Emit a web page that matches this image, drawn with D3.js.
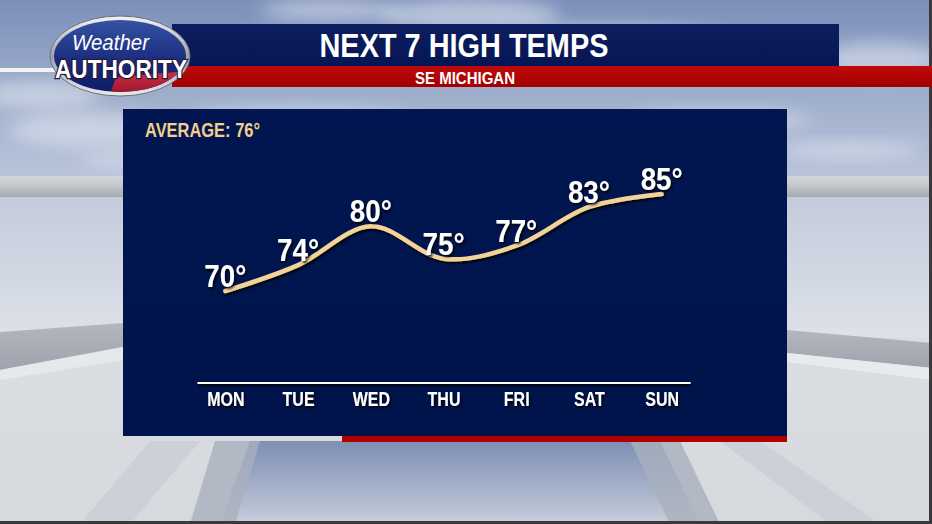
<!DOCTYPE html>
<html><head><meta charset="utf-8">
<script src="https://cdn.jsdelivr.net/npm/d3@7"></script>
<style>html,body{margin:0;padding:0;background:#ccc;overflow:hidden}svg{display:block}</style>
</head><body>
<script>
// ---- data ----
const days = ["MON","TUE","WED","THU","FRI","SAT","SUN"];
const temps = [70, 74, 80, 75, 77, 83, 85];
const averageTemp = 76;
const title = "NEXT 7 HIGH TEMPS";
const subtitle = "SE MICHIGAN";

const W = 932, H = 524;
const FONT = "'Liberation Sans Narrow','Arial Narrow','Liberation Sans',Arial,sans-serif";
const svg = d3.select("body").append("svg").attr("width", W).attr("height", H);
const defs = svg.append("defs");

function lg(id, stops, x1=0,y1=0,x2=0,y2=1){
  const g = defs.append("linearGradient").attr("id", id)
    .attr("x1",x1).attr("y1",y1).attr("x2",x2).attr("y2",y2);
  stops.forEach(s => g.append("stop").attr("offset", s[0]).attr("stop-color", s[1]).attr("stop-opacity", s[2]===undefined?1:s[2]));
}
lg("sky", [[0,"#7b8fba"],[0.45,"#9aaac9"],[1,"#b9c4da"]]);
lg("beam", [[0,"#d3d5d9"],[0.5,"#c2c5ca"],[1,"#a6abb3"]]);
lg("mid", [[0,"#c3ccdc"],[1,"#dde1e8"]]);
lg("floor", [[0,"#e1e4e9"],[1,"#d6d9de"]]);
lg("band", [[0,"#b3b7be"],[1,"#9ea3ad"]]);
lg("pit", [[0,"#7d8fb3"],[0.6,"#a7b3cb"],[1,"#c9cfdb"]]);
lg("navyBanner", [[0,"#0d1e60"],[1,"#061654"]]);
lg("redBanner", [[0,"#c10a0a"],[1,"#a00000"]]);
lg("panel", [[0,"#011650"],[1,"#00144b"]]);
lg("silver", [[0,"#f4f4f6"],[0.5,"#9da2ad"],[1,"#e8e9ec"]]);
lg("logoBlue", [[0,"#3a56a6"],[0.6,"#15287a"],[1,"#0b1a5e"]]);
lg("logoRed", [[0,"#d0324a"],[1,"#8c0d22"]]);

const blur = defs.append("filter").attr("id","blur").attr("x","-50%").attr("y","-50%").attr("width","200%").attr("height","200%");
blur.append("feGaussianBlur").attr("stdDeviation", 8);
const shadow = defs.append("filter").attr("id","shadow").attr("x","-20%").attr("y","-20%").attr("width","140%").attr("height","160%");
shadow.append("feDropShadow").attr("dx",1.5).attr("dy",2).attr("stdDeviation",1).attr("flood-color","#000").attr("flood-opacity",0.85);
const shadowU = defs.append("filter").attr("id","shadowU").attr("filterUnits","userSpaceOnUse")
  .attr("x",0).attr("y",0).attr("width",W).attr("height",H);
shadowU.append("feDropShadow").attr("dx",1).attr("dy",2).attr("stdDeviation",1).attr("flood-color","#000").attr("flood-opacity",0.9);

// ---- background ----
const bg = svg.append("g");
bg.append("rect").attr("width",W).attr("height",H).attr("fill","url(#floor)");
bg.append("rect").attr("width",W).attr("height",178).attr("fill","url(#sky)");
const clouds = [[470,15,90,16],[600,40,120,14],[300,120,110,12],[90,130,80,18],[720,120,90,10],[850,150,70,8],[40,95,60,14],[880,60,60,18],[200,160,120,10],[650,150,100,9],[330,10,70,10]];
bg.selectAll("ellipse.cloud").data(clouds).join("ellipse")
  .attr("cx",d=>d[0]).attr("cy",d=>d[1]).attr("rx",d=>d[2]).attr("ry",d=>d[3])
  .attr("fill","#e4e9f3").attr("opacity",0.55).attr("filter","url(#blur)");
bg.append("rect").attr("y",176).attr("width",W).attr("height",21).attr("fill","url(#beam)");
bg.append("rect").attr("y",197).attr("width",W).attr("height",140).attr("fill","url(#mid)");
bg.append("polygon").attr("points","0,332 123,323 123,347 0,370").attr("fill","url(#band)");
bg.append("polygon").attr("points","787,330 932,343 932,368 787,353").attr("fill","url(#band)");
bg.append("polygon").attr("points","0,370 123,347 123,360 0,380").attr("fill","#e6e8ec");
bg.append("polygon").attr("points","787,353 932,368 932,380 787,362").attr("fill","#e8eaee");
bg.append("polygon").attr("points","250,441 660,441 700,524 220,524").attr("fill","url(#pit)");
bg.append("polygon").attr("points","215,441 260,441 235,524 190,524").attr("fill","#a9b0bd").attr("opacity",0.8);
bg.append("polygon").attr("points","630,441 680,441 720,524 670,524").attr("fill","#a9b0bd").attr("opacity",0.8);
bg.append("polygon").attr("points","150,441 200,441 130,524 80,524").attr("fill","#c8ccd3").attr("opacity",0.7);
bg.append("polygon").attr("points","720,441 760,441 880,524 830,524").attr("fill","#c8ccd3").attr("opacity",0.7);
bg.append("rect").attr("x",929).attr("width",3).attr("height",H).attr("fill","#3a3a3c");
bg.append("rect").attr("y",521).attr("width",W).attr("height",3).attr("fill","#3a3a3c");

// ---- header banners ----
svg.append("rect").attr("x",0).attr("y",68).attr("width",60).attr("height",4).attr("fill","#f2f2f4");
svg.append("rect").attr("x",172).attr("y",24).attr("width",667).attr("height",42).attr("fill","url(#navyBanner)");
svg.append("rect").attr("x",172).attr("y",66).attr("width",760).attr("height",21).attr("fill","url(#redBanner)");
svg.append("text").attr("x",464).attr("y",57).attr("text-anchor","middle")
  .attr("font-family",FONT).attr("font-weight","bold")
  .attr("font-size",34).attr("fill","#fff").attr("textLength",289).attr("lengthAdjust","spacingAndGlyphs")
  .text(title);
svg.append("text").attr("x",465).attr("y",84).attr("text-anchor","middle")
  .attr("font-family",FONT).attr("font-weight","bold")
  .attr("font-size",16).attr("fill","#fff").attr("textLength",100).attr("lengthAdjust","spacingAndGlyphs")
  .text(subtitle);

// ---- logo ----
const logo = svg.append("g");
defs.append("clipPath").attr("id","logoClip").append("ellipse").attr("cx",120).attr("cy",56).attr("rx",66).attr("ry",36);
logo.append("ellipse").attr("cx",120).attr("cy",56).attr("rx",70).attr("ry",40).attr("fill","url(#silver)").attr("stroke","#6d7280").attr("stroke-width",1);
const inner = logo.append("g").attr("clip-path","url(#logoClip)");
inner.append("rect").attr("x",50).attr("y",15).attr("width",140).attr("height",85).attr("fill","url(#logoBlue)");
inner.append("polygon").attr("points","108,100 116,77 200,70 200,100").attr("fill","url(#logoRed)");
logo.append("text").attr("x",72).attr("y",50)
  .attr("font-family","'Liberation Sans',Arial,sans-serif").attr("font-style","italic")
  .attr("font-size",22).attr("fill","#fff").attr("textLength",77).attr("lengthAdjust","spacingAndGlyphs").text("Weather");
logo.append("text").attr("x",55).attr("y",78)
  .attr("font-family",FONT).attr("font-weight","bold")
  .attr("font-size",25).attr("fill","#fff").attr("stroke","#2a1a3a").attr("stroke-width",2.5).attr("paint-order","stroke")
  .attr("textLength",132).attr("lengthAdjust","spacingAndGlyphs").text("AUTHORITY");

// ---- chart panel ----
svg.append("rect").attr("x",342).attr("y",436).attr("width",445).attr("height",6).attr("fill","#b00000");
svg.append("rect").attr("x",123).attr("y",109).attr("width",664).attr("height",327).attr("fill","url(#panel)");

svg.append("text").attr("x",145).attr("y",137)
  .attr("font-family",FONT).attr("font-weight","bold")
  .attr("font-size",20).attr("fill","#f4cf8c").attr("textLength",115).attr("lengthAdjust","spacingAndGlyphs")
  .text(`AVERAGE: ${averageTemp}°`);

const x = d3.scalePoint().domain(days).range([197, 690]).padding(0.39);
const y = d3.scaleLinear().domain([70, 85]).range([291, 194]);

// axis
const axisG = svg.append("g").attr("transform","translate(0,382)")
  .call(d3.axisBottom(x).tickSize(0).tickPadding(10));
axisG.select(".domain").attr("stroke","#fff").attr("stroke-width",3).attr("filter","url(#shadowU)");
axisG.selectAll(".tick text")
  .attr("font-family",FONT).attr("font-weight","bold")
  .attr("font-size",20).attr("fill","#fff").attr("filter","url(#shadow)")
  .attr("dy","0.71em")
  .each(function(){
    const len = this.getComputedTextLength();
    d3.select(this).attr("textLength", len*0.8).attr("lengthAdjust","spacingAndGlyphs");
  });

// line
const line = d3.line().x((d,i)=>x(days[i])).y(d=>y(d)).curve(d3.curveCatmullRom.alpha(0.5));
svg.append("path").datum(temps).attr("d", line)
  .attr("fill","none").attr("stroke","#f3d398").attr("stroke-width",4.5).attr("stroke-linecap","round")
  .attr("filter","url(#shadow)");

// labels
svg.selectAll("text.temp").data(temps).join("text").attr("class","temp")
  .attr("x",(d,i)=>x(days[i])).attr("y",d=>y(d)-4).attr("text-anchor","middle")
  .attr("font-family",FONT).attr("font-weight","bold")
  .attr("font-size",32).attr("fill","#fff").attr("textLength",42).attr("lengthAdjust","spacingAndGlyphs")
  .attr("filter","url(#shadow)")
  .text(d=>`${d}°`);
</script>
</body></html>
